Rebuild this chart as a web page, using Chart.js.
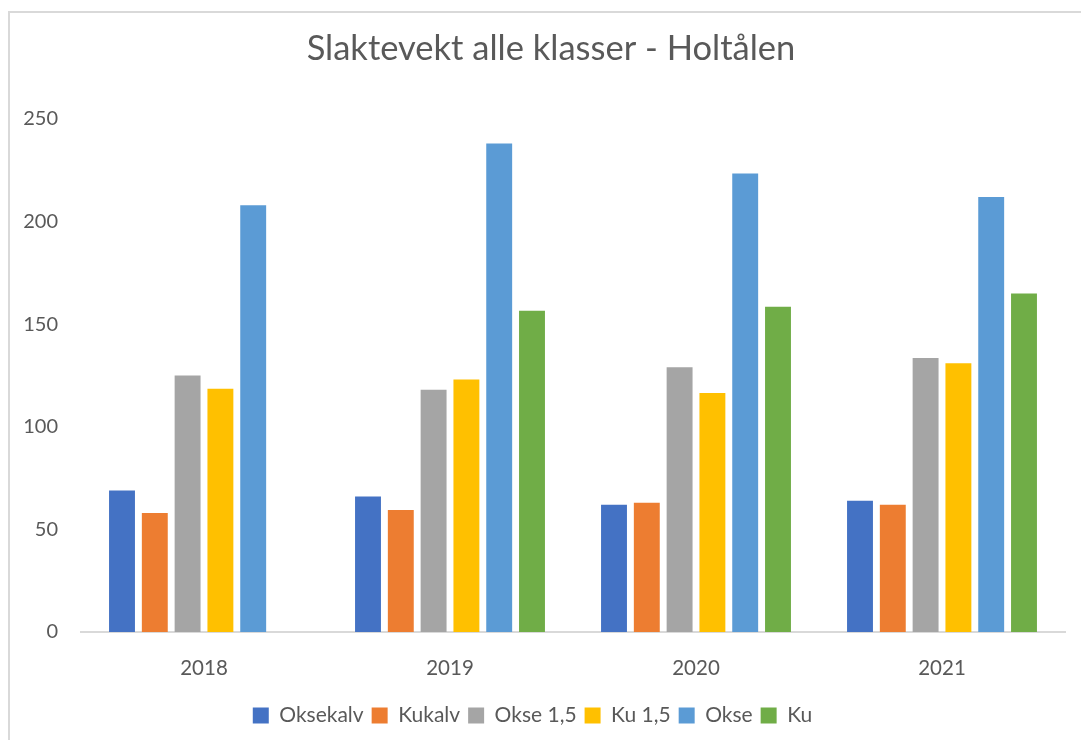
<!DOCTYPE html>
<html>
<head>
<meta charset="utf-8">
<script src="https://cdn.jsdelivr.net/npm/chart.js@4"></script>
<style>
  html, body { margin: 0; padding: 0; background: #fff; }
  #wrap { width: 1081px; height: 740px; }
</style>
</head>
<body>
<div id="wrap"><canvas id="slakt-chart" width="1081" height="740"></canvas></div>
<script>
const years = ["2018", "2019", "2020", "2021"];
const seriesNames = ["Oksekalv", "Kukalv", "Okse 1,5", "Ku 1,5", "Okse", "Ku"];

const oksekalv = [69, 66, 62, 64];
const kukalv = [58, 59.5, 63, 62];
const okse15 = [125, 118, 129, 133.5];
const ku15 = [118.5, 123, 116.5, 131];
const okse = [208, 238, 223.5, 212];
const ku = [null, 156.5, 158.5, 165];

const yTicks = [0, 50, 100, 150, 200, 250];
const chartTitle = "Slaktevekt alle klasser - Holtålen";

function getColor(name) {
  if (name === "Oksekalv") return "#4472C4";
  if (name === "Kukalv") return "#ED7D31";
  if (name === "Okse 1,5") return "#A5A5A5";
  if (name === "Ku 1,5") return "#FFC000";
  if (name === "Okse") return "#5B9BD5";
  if (name === "Ku") return "#70AD47";
}

const values = [oksekalv, kukalv, okse15, ku15, okse, ku];
const fontFamily = "Lato, 'Open Sans', sans-serif";
const textColor = "#595959";

// grey frame round the chart and the title, centred on the frame like in Excel
const framePlugin = {
  id: "frame",
  beforeDraw(chart) {
    const ctx = chart.ctx;
    ctx.save();
    ctx.strokeStyle = "#d9d9d9";
    ctx.lineWidth = 2;
    ctx.beginPath();
    ctx.moveTo(9, 760);
    ctx.lineTo(9, 12);
    ctx.lineTo(1100, 12);
    ctx.stroke();
    ctx.fillStyle = textColor;
    ctx.font = "34.5px " + fontFamily;
    ctx.textAlign = "center";
    ctx.textBaseline = "middle";
    ctx.fillText(chartTitle, 551, 49);
    ctx.restore();
  },
};

new Chart(document.querySelector("#slakt-chart").getContext("2d"), {
  type: "bar",
  data: {
    labels: years,
    datasets: seriesNames.map((name, i) => ({
      label: name,
      data: values[i],
      backgroundColor: getColor(name),
      borderWidth: 0,
      categoryPercentage: 0.8,
      barPercentage: 0.79,
    })),
  },
  options: {
    responsive: false,
    animation: false,
    layout: { padding: { left: 0, right: 16, top: 119, bottom: 4 } },
    plugins: {
      title: { display: false },
      legend: {
        position: "bottom",
        labels: {
          color: textColor,
          font: { family: fontFamily, size: 21 },
          boxWidth: 16,
          boxHeight: 16,
          padding: 8,
        },
      },
      tooltip: { enabled: false },
    },
    scales: {
      x: {
        grid: { display: false, drawTicks: false },
        border: { display: true, color: "#d9d9d9", width: 2 },
        afterFit: (scale) => {
          scale.height = 65;
        },
        ticks: {
          color: textColor,
          font: { family: fontFamily, size: 20.5 },
          padding: 24,
        },
      },
      y: {
        min: 0,
        max: 250,
        afterBuildTicks: (scale) => {
          scale.ticks = yTicks.map((v) => ({ value: v }));
        },
        afterFit: (scale) => {
          scale.width = 81;
        },
        grid: { display: false, drawTicks: false },
        border: { display: false },
        ticks: {
          color: textColor,
          font: { family: fontFamily, size: 20 },
          padding: 23,
        },
      },
    },
  },
  plugins: [framePlugin],
});
</script>
</body>
</html>
